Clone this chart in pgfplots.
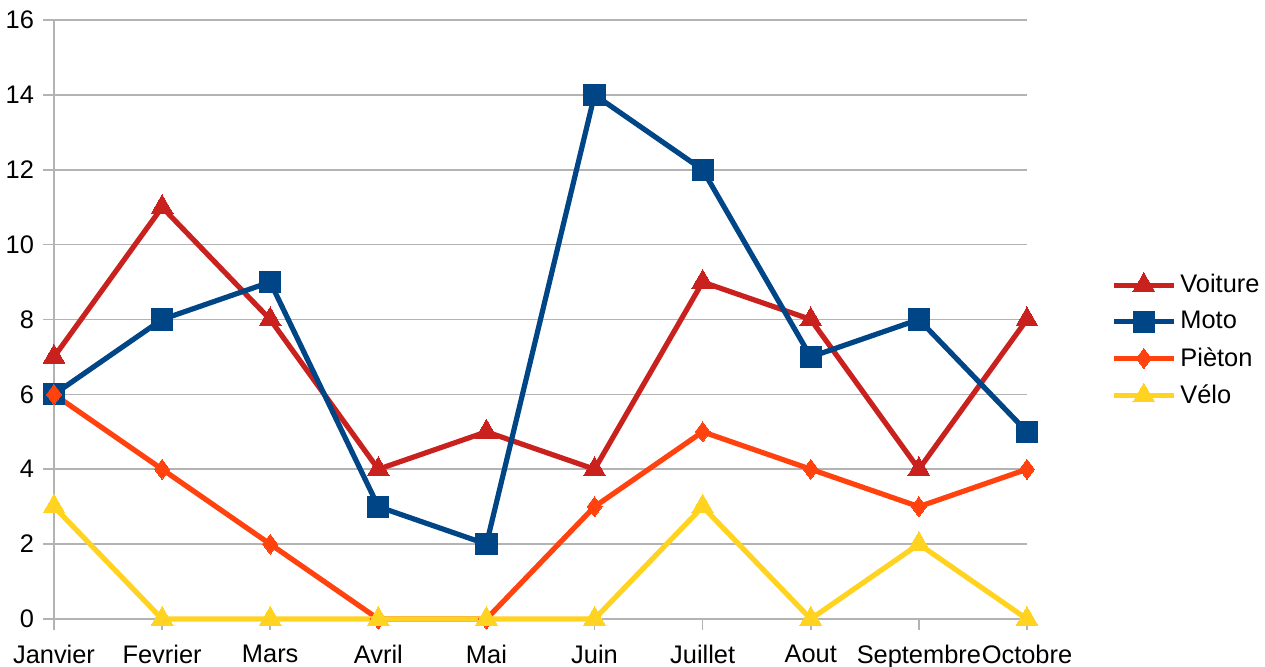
\documentclass[border=0pt]{standalone}
\usepackage{pgfplots}
\pgfplotsset{compat=1.18}
\usepackage{fontspec}
\setmainfont{Liberation Sans}
\definecolor{cVoit}{HTML}{C9211E}
\definecolor{cMoto}{HTML}{004586}
\definecolor{cPiet}{HTML}{FF420E}
\definecolor{cVelo}{HTML}{FFD320}
\definecolor{cGrid}{HTML}{B3B3B3}
\begin{document}
\begin{tikzpicture}
\begin{axis}[
  scale only axis,
  width=486.5pt, height=299.5pt,
  xmin=0, xmax=9, ymin=0, ymax=16,
  xtick={0,...,9},
  xticklabels={Janvier,Fevrier,Mars,Avril,Mai,Juin,Juillet,Aout,Septembre,Octobre},
  ytick={0,2,...,16},
  /pgf/number format/assume math mode=true,
  font=\fontsize{12.7pt}{15pt}\selectfont,
  tick label style={font=\fontsize{12.7pt}{15pt}\selectfont},
  axis x line*=bottom, axis y line*=left,
  x axis line style={draw=none},
  y axis line style={cGrid, line width=0.8pt, -},
  ymajorgrids, grid style={cGrid, line width=0.8pt},
  x tick style={cGrid, line width=0.8pt},
  y tick style={cGrid, line width=0.8pt},
  tick align=outside, major tick length=5.5pt,
  xticklabel style={yshift=-4pt},
  yticklabel style={xshift=-1pt},
  clip=false,
  legend style={draw=none, fill=none, at={(1.08,0.465)}, anchor=west,
    row sep=3.8pt, font=\fontsize{12.7pt}{15pt}\selectfont},
  legend cell align=left,
  legend image code/.code={
    \draw[#1, mark repeat=2, mark phase=2] plot coordinates {(0pt,0pt) (15pt,0pt) (30pt,0pt)};
  },
  every axis plot/.append style={line width=2.6pt, line join=miter},
]
\addplot[cVoit, mark=triangle*, mark size=6.3pt, mark options={solid, line width=0pt}] coordinates {
(0,7)(1,11)(2,8)(3,4)(4,5)(5,4)(6,9)(7,8)(8,4)(9,8)};
\addlegendentry{Voiture}
\addplot[cMoto, mark=square*, mark size=5.3pt, mark options={solid, line width=0pt}] coordinates {
(0,6)(1,8)(2,9)(3,3)(4,2)(5,14)(6,12)(7,7)(8,8)(9,5)};
\addlegendentry{Moto}
\addplot[cPiet, mark=diamond*, mark size=5pt, mark options={solid, line width=0pt}] coordinates {
(0,6)(1,4)(2,2)(3,0)(4,0)(5,3)(6,5)(7,4)(8,3)(9,4)};
\addlegendentry{Pièton}
\addplot[cVelo, mark=triangle*, mark size=6.3pt, mark options={solid, line width=0pt}] coordinates {
(0,3)(1,0)(2,0)(3,0)(4,0)(5,0)(6,3)(7,0)(8,2)(9,0)};
\addlegendentry{Vélo}
\end{axis}
\pgfresetboundingbox
\useasboundingbox (current axis.south west) ++(-27pt,-24pt) rectangle ++(632.5pt,333.5pt);
\end{tikzpicture}
\end{document}
